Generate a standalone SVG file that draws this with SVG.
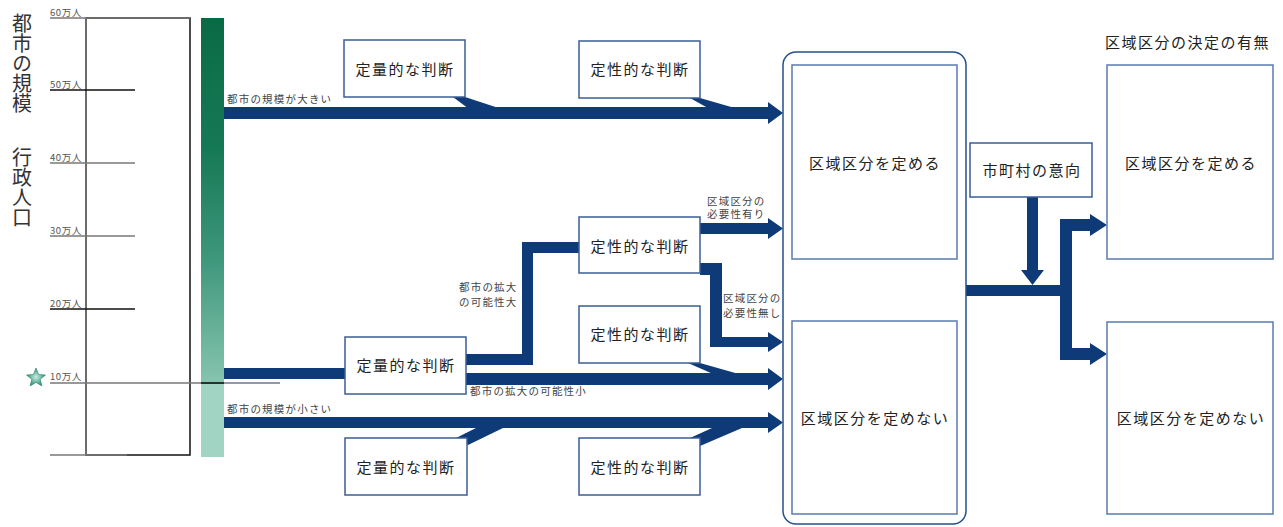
<svg xmlns="http://www.w3.org/2000/svg" width="1283" height="527" viewBox="0 0 1283 527">
<style>
  .box { fill: #ffffff; stroke: #3a5f95; stroke-width: 1.5; }
  .ibox { fill: #ffffff; stroke: #5a7bb0; stroke-width: 1.5; }
  .lbl { font-family: "Noto Sans CJK JP", "Liberation Sans", sans-serif; font-size: 15px; fill: #222; text-anchor: middle; letter-spacing: 1.5px; }
  .sm { font-family: "Noto Sans CJK JP", "Liberation Sans", sans-serif; font-size: 10.5px; fill: #444; letter-spacing: 1.2px; }
  .sc { font-family: "Noto Sans CJK JP", "Liberation Sans", sans-serif; font-size: 9.5px; fill: #555; letter-spacing: 0.6px; }
  .big { font-family: "Noto Sans CJK JP", "Liberation Sans", sans-serif; font-size: 20px; fill: #333; }
  .arr { fill: #0e3b77; }
  .gl { stroke: #777; stroke-width: 1.5; fill: none; }
  .bl { stroke: #111; stroke-width: 1.5; fill: none; }
</style>
<defs>
  <linearGradient id="barg" x1="0" y1="18" x2="0" y2="457" gradientUnits="userSpaceOnUse">
    <stop offset="0" stop-color="#0a6a46"/>
    <stop offset="0.3" stop-color="#167955"/>
    <stop offset="0.55" stop-color="#3f977c"/>
    <stop offset="0.83" stop-color="#86c4ae"/>
    <stop offset="0.834" stop-color="#a2d4c4"/>
    <stop offset="1" stop-color="#a2d4c4"/>
  </linearGradient>
  <radialGradient id="starg" cx="0.5" cy="0.5" r="0.5">
    <stop offset="0" stop-color="#c8ece0"/>
    <stop offset="1" stop-color="#2e8f76"/>
  </radialGradient>
</defs>
<rect width="1283" height="527" fill="#ffffff"/>

<g id="title-left">
  <text class="big" x="22" y="13" writing-mode="vertical-rl">都市の規模</text>
  <text class="big" x="22" y="147" writing-mode="vertical-rl">行政人口</text>
</g>

<g id="scale">
  <rect x="86" y="18" width="104" height="437" fill="none" stroke="#111" stroke-width="1.5"/>
  <line class="gl" x1="86" y1="18" x2="86" y2="455"/>
  <line class="gl" x1="50" y1="18" x2="190" y2="18"/>
  <line class="bl" x1="50" y1="90" x2="135" y2="90"/>
  <line class="gl" x1="50" y1="163" x2="135" y2="163"/>
  <line class="gl" x1="50" y1="236" x2="135" y2="236"/>
  <line class="bl" x1="50" y1="309" x2="135" y2="309"/>
  <line class="gl" x1="50" y1="455" x2="127" y2="455"/>
  <text class="sc" x="50" y="16">60万人</text>
  <text class="sc" x="50" y="88">50万人</text>
  <text class="sc" x="50" y="161">40万人</text>
  <text class="sc" x="50" y="234">30万人</text>
  <text class="sc" x="50" y="307">20万人</text>
  <text class="sc" x="50" y="380">10万人</text>
  <polygon points="36,368 38.6,374.4 45.5,375 40.2,379.3 41.9,386 36,382.4 30.1,386 31.8,379.3 26.5,375 33.4,374.4" fill="url(#starg)" stroke="#2a8068" stroke-width="0.6"/>
</g>

<g id="population-bar">
  <rect x="201" y="18" width="23" height="439" fill="url(#barg)"/>
  <line class="gl" x1="50" y1="383" x2="280" y2="383"/>
  <line class="bl" x1="201" y1="383" x2="224" y2="383"/>
</g>

<g id="connectors">
  <path class="arr" d="M224,107 H768 V102 L783,113 L768,124 V119 H224 Z"/>
  <polygon class="arr" points="453,97 465,97 497,107.5 467,107.5"/>
  <polygon class="arr" points="690,98 700,98 733,107.5 707,107.5"/>
  <rect class="arr" x="224" y="368" width="122" height="11"/>
  <path class="arr" d="M466,373 H768 V368 L783,379 L768,390 V385 H466 Z"/>
  <polygon class="arr" points="688,363 700,363 737,373.5 712,373.5"/>
  <path class="arr" d="M466,354 H522 V242 H580 V253 H533 V365 H466 Z"/>
  <path class="arr" d="M700,223 H768 V218 L783,228.5 L768,239 V234 H700 Z"/>
  <path class="arr" d="M700,263 H722 V337 H768 V332 L783,342 L768,352 V347 H710 V275 H700 Z"/>
  <path class="arr" d="M224,417 H768 V412 L783,422.5 L768,433 V428 H224 Z"/>
  <polygon class="arr" points="456,438 468,445 503,428 476,428"/>
  <polygon class="arr" points="690,438 700,446 742,428 712,428"/>
  <path class="arr" d="M966,285 H1060 V219 H1090 V214 L1107,225 L1090,236 V231 H1072 V348 H1090 V343 L1107,354 L1090,365 V360 H1060 V296 H966 Z"/>
  <path class="arr" d="M1027,197 H1038 V270 H1044 L1032.5,285 L1021,270 H1027 Z"/>
  <text class="sm" x="227" y="103">都市の規模が大きい</text>
  <text class="sm" x="227" y="413">都市の規模が小さい</text>
  <text class="sm" x="470" y="395">都市の拡大の可能性小</text>
  <text class="sm" x="459" y="291">都市の拡大</text>
  <text class="sm" x="459" y="306">の可能性大</text>
  <text class="sm" x="707" y="205">区域区分の</text>
  <text class="sm" x="707" y="217.5">必要性有り</text>
  <text class="sm" x="723" y="302">区域区分の</text>
  <text class="sm" x="723" y="317">必要性無し</text>
</g>

<g id="n-top-quant">
  <rect class="box" x="344" y="40" width="121" height="57"/>
  <text class="lbl" x="405" y="75">定量的な判断</text>
</g>
<g id="n-top-qual">
  <rect class="box" x="579" y="41" width="121" height="57"/>
  <text class="lbl" x="640" y="75">定性的な判断</text>
</g>
<g id="n-mid-quant">
  <rect class="box" x="345" y="337" width="121" height="57"/>
  <text class="lbl" x="406" y="370.5">定量的な判断</text>
</g>
<g id="n-mid-qual-upper">
  <rect class="box" x="579" y="217" width="121" height="56"/>
  <text class="lbl" x="640" y="252">定性的な判断</text>
</g>
<g id="n-mid-qual-lower">
  <rect class="box" x="579" y="306" width="121" height="57"/>
  <text class="lbl" x="640" y="339.5">定性的な判断</text>
</g>
<g id="n-bot-quant">
  <rect class="box" x="345" y="438" width="122" height="57"/>
  <text class="lbl" x="406" y="472.5">定量的な判断</text>
</g>
<g id="n-bot-qual">
  <rect class="box" x="579" y="438" width="121" height="57"/>
  <text class="lbl" x="640" y="472.5">定性的な判断</text>
</g>

<g id="n-decision-group">
  <rect x="783" y="52" width="183" height="472" rx="13" ry="13" fill="#ffffff" stroke="#24508c" stroke-width="1.5"/>
</g>
<g id="n-define">
  <rect class="ibox" x="792" y="65" width="165" height="194"/>
  <text class="lbl" x="875" y="168.5">区域区分を定める</text>
</g>
<g id="n-not-define">
  <rect class="ibox" x="792" y="321" width="165" height="193"/>
  <text class="lbl" x="875" y="423.5">区域区分を定めない</text>
</g>
<g id="n-municipal">
  <rect class="box" x="970" y="143" width="122" height="54"/>
  <text class="lbl" x="1032" y="175.5">市町村の意向</text>
</g>
<g id="n-result-title">
  <text class="lbl" x="1105" y="47.5" style="text-anchor:start">区域区分の決定の有無</text>
</g>
<g id="n-result-define">
  <rect class="ibox" x="1107" y="65" width="166" height="194"/>
  <text class="lbl" x="1191" y="168.5">区域区分を定める</text>
</g>
<g id="n-result-not-define">
  <rect class="ibox" x="1107" y="322" width="166" height="192"/>
  <text class="lbl" x="1191" y="423.5">区域区分を定めない</text>
</g>
</svg>
